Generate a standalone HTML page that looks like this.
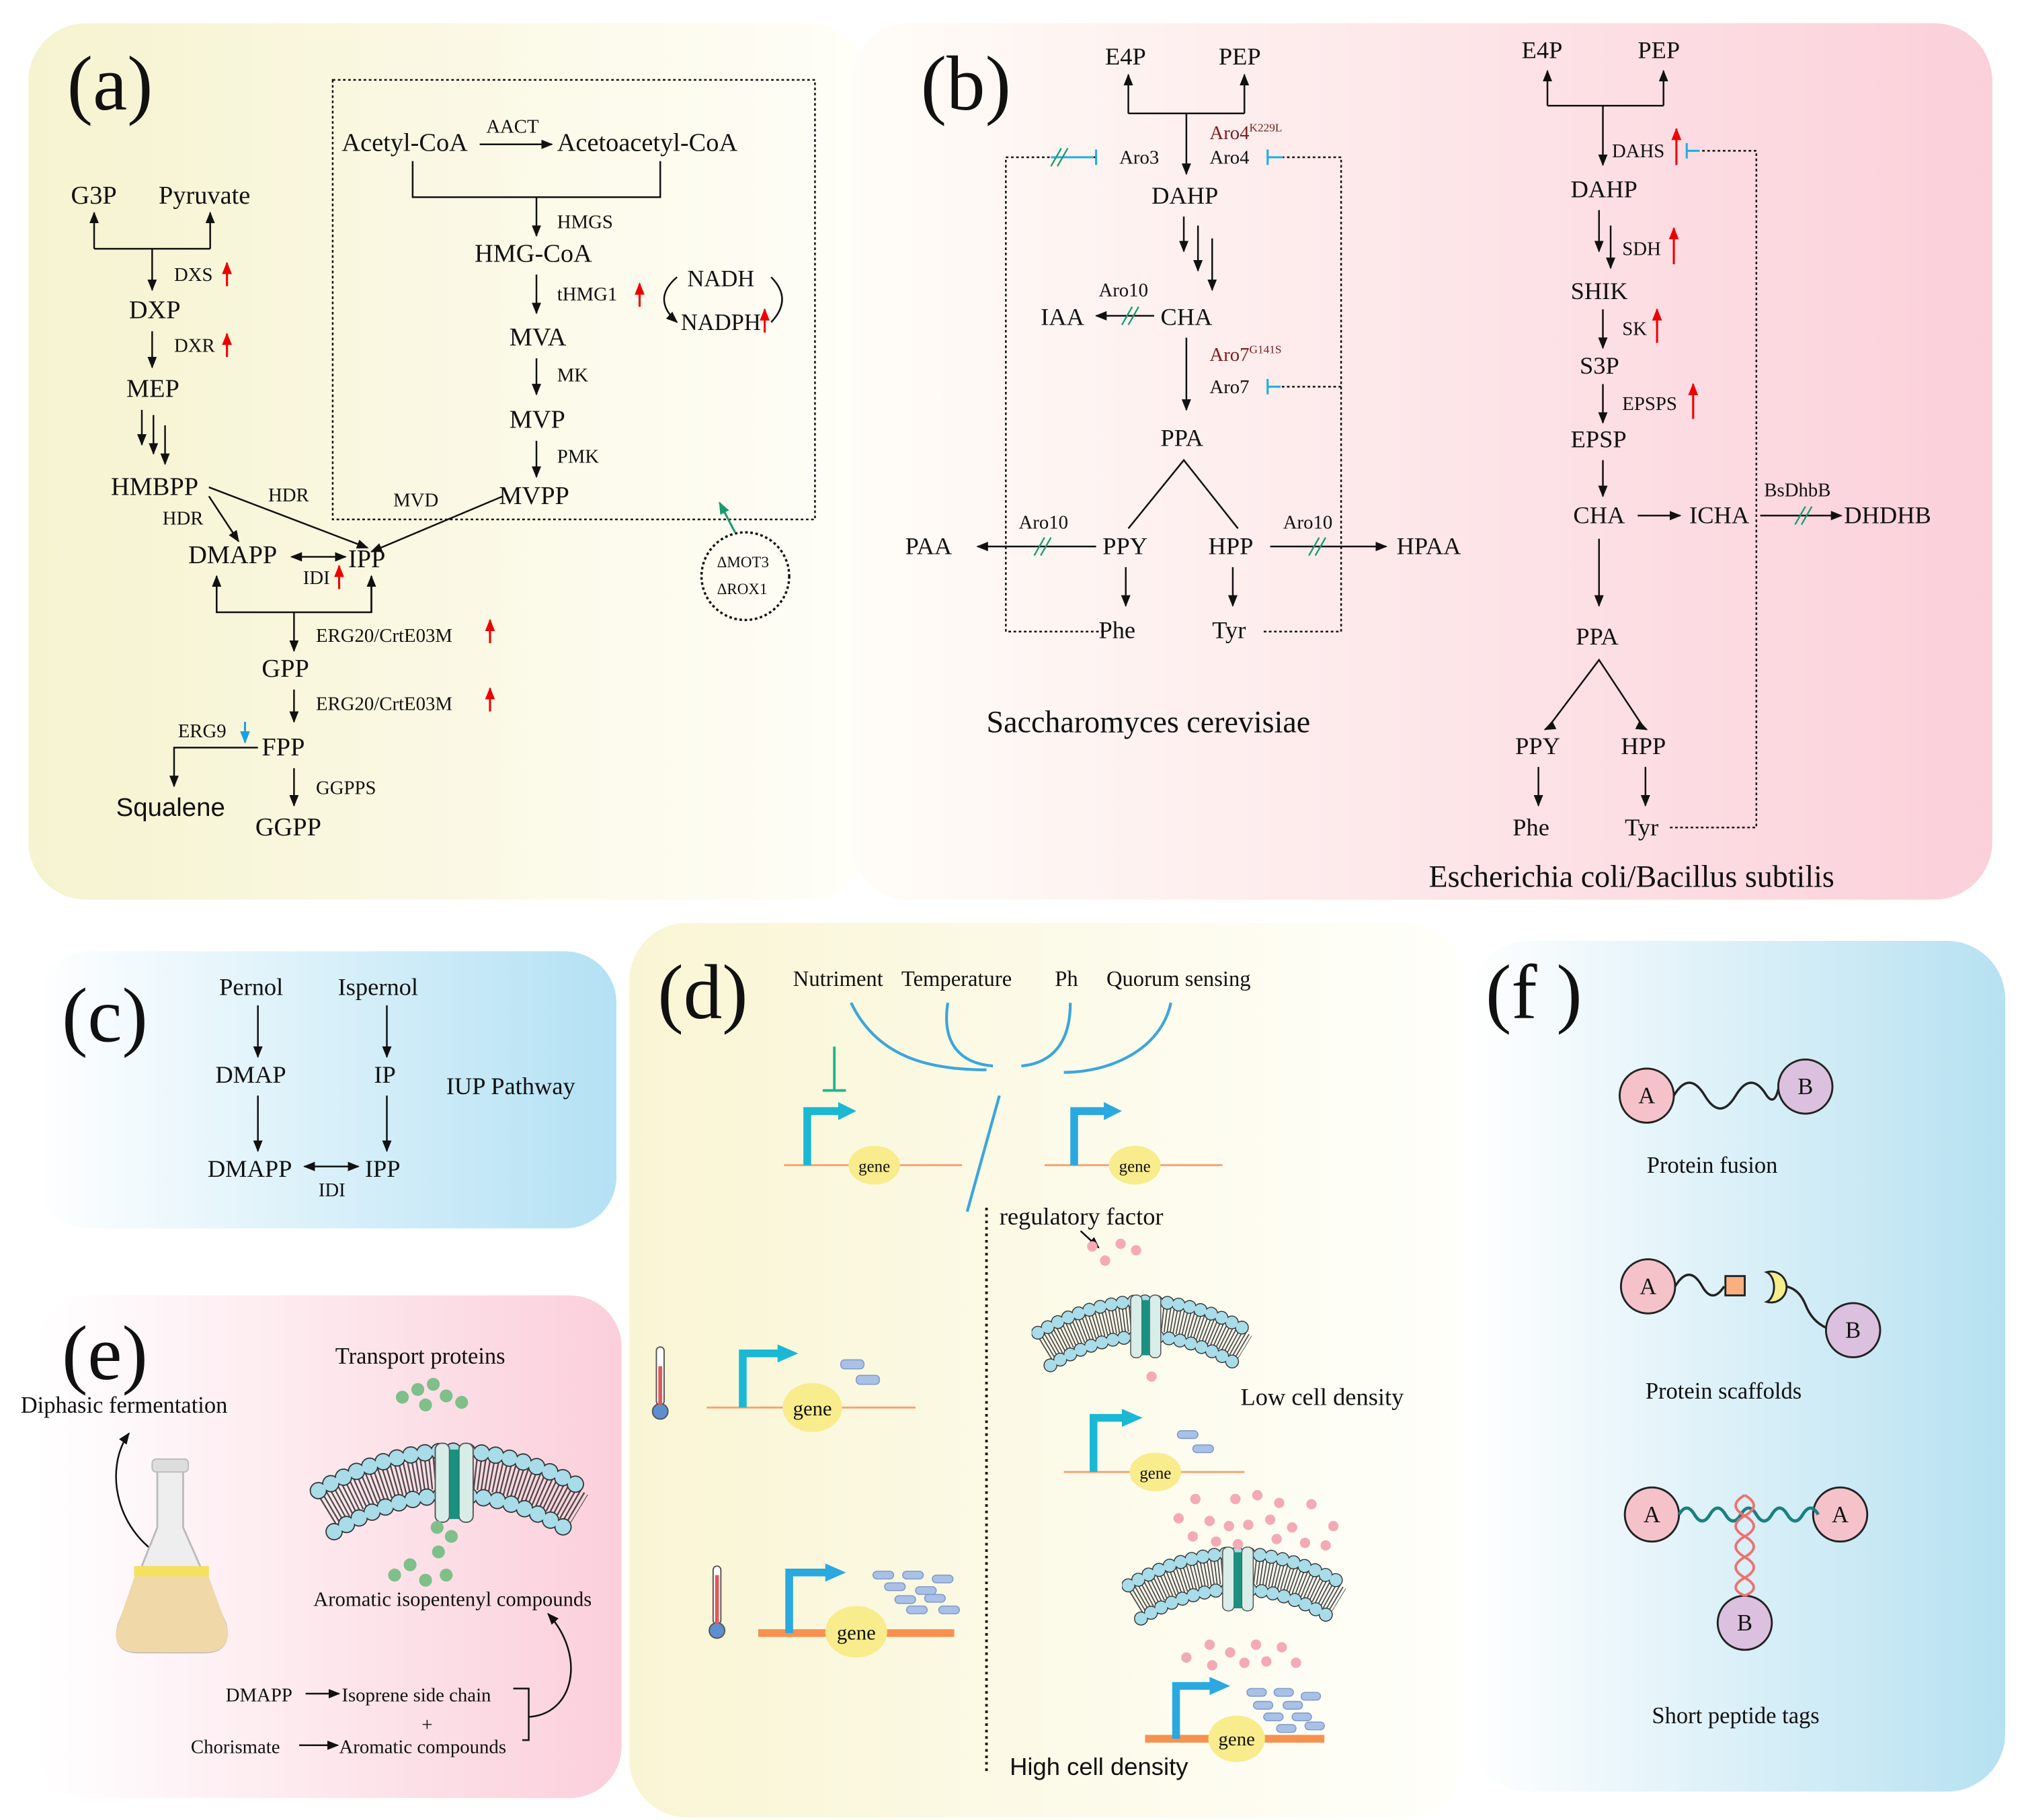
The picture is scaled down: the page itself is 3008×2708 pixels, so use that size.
<!DOCTYPE html>
<html><head><meta charset="utf-8"><style>
html,body{margin:0;padding:0;background:#fff}
svg{display:block}
text{font-family:"Liberation Serif",serif;fill:#111}
.s{font-family:"Liberation Sans",sans-serif}
</style></head><body>
<svg width="3008" height="2708" viewBox="0 0 1568 1412" preserveAspectRatio="none" xmlns="http://www.w3.org/2000/svg">
<defs>
<linearGradient id="ga" x1="0" x2="1"><stop offset="0" stop-color="#f6f3d0"/><stop offset="1" stop-color="#fffef8"/></linearGradient>
<linearGradient id="gb" x1="0" x2="1"><stop offset="0" stop-color="#fffdf8"/><stop offset="1" stop-color="#fbd0da"/></linearGradient>
<linearGradient id="gc" x1="0" x2="1"><stop offset="0" stop-color="#ffffff"/><stop offset="1" stop-color="#b3e1f4"/></linearGradient>
<linearGradient id="gd" x1="0" x2="1"><stop offset="0" stop-color="#f9f5d4"/><stop offset="1" stop-color="#fffffb"/></linearGradient>
<linearGradient id="ge" x1="0" x2="1"><stop offset="0" stop-color="#ffffff"/><stop offset="1" stop-color="#fbcfdb"/></linearGradient>
<linearGradient id="gf" x1="0" x2="1"><stop offset="0" stop-color="#ffffff"/><stop offset="1" stop-color="#b6e1f1"/></linearGradient>
<marker id="ar" viewBox="0 0 10 10" refX="9" refY="5" markerWidth="7" markerHeight="7" orient="auto-start-reverse"><path d="M0,1 L10,5 L0,9 z" fill="#111"/></marker>
<marker id="rr" viewBox="0 0 10 10" refX="9" refY="5" markerWidth="6" markerHeight="6" orient="auto"><path d="M0,1 L10,5 L0,9 z" fill="#e00"/></marker>
<marker id="br" viewBox="0 0 10 10" refX="9" refY="5" markerWidth="6" markerHeight="6" orient="auto"><path d="M0,1 L10,5 L0,9 z" fill="#1aa0e0"/></marker>
<marker id="gr" viewBox="0 0 10 10" refX="9" refY="5" markerWidth="6" markerHeight="6" orient="auto"><path d="M0,1 L10,5 L0,9 z" fill="#1a9a70"/></marker>
<symbol id="mem" viewBox="0 0 180 80">
<path d="M10,54 Q90,5 170,54" fill="none" stroke="#333" stroke-width="22" stroke-dasharray="1 1.6" opacity="0.85"/>
<path d="M5,42 Q90,-8 175,42" fill="none" stroke="#333" stroke-width="11" stroke-dasharray="0 9" stroke-linecap="round"/>
<path d="M5,42 Q90,-8 175,42" fill="none" stroke="#a8dce8" stroke-width="9.5" stroke-dasharray="0 9" stroke-linecap="round"/>
<path d="M15,68 Q90,22 165,68" fill="none" stroke="#333" stroke-width="11" stroke-dasharray="0 9" stroke-linecap="round"/>
<path d="M15,68 Q90,22 165,68" fill="none" stroke="#a8dce8" stroke-width="9.5" stroke-dasharray="0 9" stroke-linecap="round"/>
<rect x="79" y="12" width="9" height="50" rx="4" fill="#d8ece8" stroke="#555" stroke-width="0.8"/>
<rect x="94" y="12" width="9" height="50" rx="4" fill="#d8ece8" stroke="#555" stroke-width="0.8"/>
<rect x="88" y="16" width="6" height="44" fill="#1a9080"/>
</symbol>
</defs>

<rect x="22" y="18" width="650" height="680" rx="45" fill="url(#ga)"/>
<rect x="660" y="18" width="885" height="680" rx="45" fill="url(#gb)"/>
<rect x="28" y="738" width="450" height="215" rx="40" fill="url(#gc)"/>
<rect x="488" y="716" width="647" height="694" rx="45" fill="url(#gd)"/>
<rect x="28" y="1005" width="454" height="390" rx="40" fill="url(#ge)"/>
<rect x="1140" y="730" width="415" height="660" rx="45" fill="url(#gf)"/>

<g stroke="#111" stroke-width="1.3" fill="none">
<rect x="258" y="62" width="374" height="341" stroke-dasharray="2 2"/>
<line x1="372" y1="112" x2="428" y2="112" marker-end="url(#ar)"/>
<polyline points="320,125 320,153 512,153 512,125"/>
<line x1="416" y1="153" x2="416" y2="183" marker-end="url(#ar)"/>
<line x1="416" y1="213" x2="416" y2="243" marker-end="url(#ar)"/>
<line x1="416" y1="278" x2="416" y2="306" marker-end="url(#ar)"/>
<line x1="416" y1="342" x2="416" y2="370" marker-end="url(#ar)"/>
<path d="M525,215 Q505,232 525,250" marker-end="url(#ar)"/>
<path d="M598,215 Q615,232 598,250"/>
<line x1="390" y1="385" x2="288" y2="428" marker-end="url(#ar)"/>
<polyline points="73,193 73,165" marker-end="url(#ar)"/>
<polyline points="163,193 163,165" marker-end="url(#ar)"/>
<line x1="73" y1="193" x2="163" y2="193"/>
<line x1="118" y1="193" x2="118" y2="225" marker-end="url(#ar)"/>
<line x1="118" y1="257" x2="118" y2="285" marker-end="url(#ar)"/>
<line x1="110" y1="318" x2="110" y2="345" marker-end="url(#ar)"/>
<line x1="119" y1="322" x2="119" y2="352" marker-end="url(#ar)"/>
<line x1="128" y1="330" x2="128" y2="360" marker-end="url(#ar)"/>
<line x1="162" y1="378" x2="285" y2="425" marker-end="url(#ar)"/>
<line x1="162" y1="385" x2="185" y2="420" marker-end="url(#ar)"/>
<line x1="226" y1="432" x2="268" y2="432" marker-start="url(#ar)" marker-end="url(#ar)"/>
<polyline points="168,447 168,475 288,475 288,447"/>
<line x1="168" y1="475" x2="168" y2="447" marker-end="url(#ar)"/>
<line x1="288" y1="475" x2="288" y2="447" marker-end="url(#ar)"/>
<line x1="228" y1="475" x2="228" y2="505" marker-end="url(#ar)"/>
<line x1="228" y1="535" x2="228" y2="560" marker-end="url(#ar)"/>
<polyline points="200,580 135,580 135,610" marker-end="url(#ar)"/>
<line x1="228" y1="596" x2="228" y2="625" marker-end="url(#ar)"/>
<circle cx="578" cy="447" r="34" stroke-dasharray="2 2" stroke-width="1.8"/>
<polyline points="875,88 875,58" marker-end="url(#ar)"/>
<polyline points="965,88 965,58" marker-end="url(#ar)"/>
<line x1="875" y1="88" x2="965" y2="88"/>
<line x1="920" y1="88" x2="920" y2="135" marker-end="url(#ar)"/>
<polyline points="850,122 780,122 780,490 855,490" stroke-dasharray="2 2"/>
<polyline points="990,122 1040,122 1040,490 978,490" stroke-dasharray="2 2"/>
<line x1="990" y1="300" x2="1040" y2="300" stroke-dasharray="2 2"/>
<line x1="918" y1="168" x2="918" y2="195" marker-end="url(#ar)"/>
<line x1="929" y1="175" x2="929" y2="210" marker-end="url(#ar)"/>
<line x1="940" y1="185" x2="940" y2="225" marker-end="url(#ar)"/>
<line x1="895" y1="245" x2="850" y2="245" marker-end="url(#ar)"/>
<line x1="920" y1="262" x2="920" y2="318" marker-end="url(#ar)"/>
<polyline points="875,410 918,357 960,410"/>
<line x1="850" y1="424" x2="758" y2="424" marker-end="url(#ar)"/>
<line x1="985" y1="424" x2="1075" y2="424" marker-end="url(#ar)"/>
<line x1="873" y1="440" x2="873" y2="470" marker-end="url(#ar)"/>
<line x1="956" y1="440" x2="956" y2="470" marker-end="url(#ar)"/>
<polyline points="1200,82 1200,55" marker-end="url(#ar)"/>
<polyline points="1290,82 1290,55" marker-end="url(#ar)"/>
<line x1="1200" y1="82" x2="1290" y2="82"/>
<line x1="1243" y1="82" x2="1243" y2="128" marker-end="url(#ar)"/>
<polyline points="1312,117 1362,117 1362,642 1295,642" stroke-dasharray="2 2"/>
<line x1="1240" y1="163" x2="1240" y2="195" marker-end="url(#ar)"/>
<line x1="1249" y1="175" x2="1249" y2="208" marker-end="url(#ar)"/>
<line x1="1243" y1="240" x2="1243" y2="270" marker-end="url(#ar)"/>
<line x1="1243" y1="298" x2="1243" y2="328" marker-end="url(#ar)"/>
<line x1="1243" y1="357" x2="1243" y2="385" marker-end="url(#ar)"/>
<line x1="1270" y1="400" x2="1303" y2="400" marker-end="url(#ar)"/>
<line x1="1365" y1="400" x2="1428" y2="400" marker-end="url(#ar)"/>
<line x1="1240" y1="418" x2="1240" y2="470" marker-end="url(#ar)"/>
<polyline points="1200,565 1240,512 1275,565"/>
<line x1="1200" y1="565" x2="1198" y2="566" marker-end="url(#ar)"/>
<line x1="1275" y1="565" x2="1277" y2="566" marker-end="url(#ar)"/>
<line x1="1193" y1="595" x2="1193" y2="625" marker-end="url(#ar)"/>
<line x1="1276" y1="595" x2="1276" y2="625" marker-end="url(#ar)"/>
<line x1="200" y1="780" x2="200" y2="820" marker-end="url(#ar)"/>
<line x1="300" y1="780" x2="300" y2="820" marker-end="url(#ar)"/>
<line x1="200" y1="850" x2="200" y2="893" marker-end="url(#ar)"/>
<line x1="300" y1="850" x2="300" y2="893" marker-end="url(#ar)"/>
<line x1="236" y1="905" x2="278" y2="905" marker-start="url(#ar)" marker-end="url(#ar)"/>
<line x1="237" y1="1314" x2="263" y2="1314" marker-end="url(#ar)"/>
<line x1="232" y1="1354" x2="262" y2="1354" marker-end="url(#ar)"/>
<polyline points="398,1310 410,1310 410,1350 405,1350"/>
<path d="M410,1332 C445,1330 455,1285 425,1252" marker-end="url(#ar)"/>
<path d="M130,1210 C90,1190 80,1140 100,1112" marker-end="url(#ar)"/>
<line x1="838" y1="955" x2="852" y2="968" marker-end="url(#ar)"/>
</g>

<g stroke="#e00" stroke-width="1.6" fill="none">
<line x1="176" y1="222" x2="176" y2="204" marker-end="url(#rr)"/>
<line x1="176" y1="277" x2="176" y2="259" marker-end="url(#rr)"/>
<line x1="496" y1="238" x2="496" y2="220" marker-end="url(#rr)"/>
<line x1="593" y1="258" x2="593" y2="240" marker-end="url(#rr)"/>
<line x1="263" y1="457" x2="263" y2="439" marker-end="url(#rr)"/>
<line x1="380" y1="499" x2="380" y2="481" marker-end="url(#rr)"/>
<line x1="380" y1="552" x2="380" y2="534" marker-end="url(#rr)"/>
<line x1="1300" y1="128" x2="1300" y2="100" marker-end="url(#rr)"/>
<line x1="1298" y1="205" x2="1298" y2="177" marker-end="url(#rr)"/>
<line x1="1285" y1="266" x2="1285" y2="240" marker-end="url(#rr)"/>
<line x1="1313" y1="325" x2="1313" y2="298" marker-end="url(#rr)"/>
</g>
<line x1="190" y1="560" x2="190" y2="576" stroke="#1aa0e0" stroke-width="1.6" marker-end="url(#br)"/>
<line x1="570" y1="413" x2="558" y2="390" stroke="#1a9a70" stroke-width="1.6" marker-end="url(#gr)"/>
<g stroke="#1ab0e0" stroke-width="1.6">
<line x1="815" y1="122" x2="848" y2="122"/><line x1="850" y1="116" x2="850" y2="128"/>
<line x1="983" y1="116" x2="983" y2="128"/><line x1="983" y1="122" x2="995" y2="122"/>
<line x1="983" y1="294" x2="983" y2="306"/><line x1="983" y1="300" x2="993" y2="300"/>
<line x1="1308" y1="111" x2="1308" y2="123"/><line x1="1308" y1="117" x2="1318" y2="117"/>
</g>
<g stroke="#1a9a70" stroke-width="1.2">
<line x1="815" y1="129" x2="823" y2="115"/><line x1="820" y1="129" x2="828" y2="115"/>
<line x1="870" y1="252" x2="878" y2="238"/><line x1="875" y1="252" x2="883" y2="238"/>
<line x1="802" y1="431" x2="810" y2="417"/><line x1="807" y1="431" x2="815" y2="417"/>
<line x1="1015" y1="431" x2="1023" y2="417"/><line x1="1020" y1="431" x2="1028" y2="417"/>
<line x1="1392" y1="407" x2="1400" y2="393"/><line x1="1397" y1="407" x2="1405" y2="393"/>
</g>

<text x="52" y="85" font-size="60">(a)</text>
<g font-size="20">
<text x="265" y="117">Acetyl-CoA</text><text x="432" y="117">Acetoacetyl-CoA</text>
<text x="368" y="203">HMG-CoA</text><text x="395" y="268">MVA</text><text x="395" y="332">MVP</text><text x="387" y="391">MVPP</text>
<text x="533" y="222" font-size="18">NADH</text><text x="528" y="256" font-size="18">NADPH</text>
<text x="55" y="158">G3P</text><text x="123" y="158">Pyruvate</text>
<text x="100" y="247">DXP</text><text x="98" y="308">MEP</text><text x="86" y="384">HMBPP</text>
<text x="146" y="437">DMAPP</text><text x="270" y="440">IPP</text>
<text x="203" y="525">GPP</text><text x="203" y="586">FPP</text><text x="198" y="648">GGPP</text>
</g>
<text x="90" y="633" font-size="20" class="s">Squalene</text>
<g font-size="15">
<text x="377" y="103">AACT</text><text x="432" y="177">HMGS</text><text x="432" y="233">tHMG1</text>
<text x="432" y="296">MK</text><text x="432" y="359">PMK</text><text x="305" y="393">MVD</text>
<text x="135" y="218">DXS</text><text x="135" y="273">DXR</text><text x="208" y="389">HDR</text><text x="126" y="407">HDR</text>
<text x="235" y="453">IDI</text><text x="245" y="498">ERG20/CrtE03M</text><text x="245" y="551">ERG20/CrtE03M</text>
<text x="138" y="572">ERG9</text><text x="245" y="616">GGPPS</text>
<text x="556" y="440" font-size="12">ΔMOT3</text><text x="556" y="461" font-size="12">ΔROX1</text>
</g>

<text x="714" y="85" font-size="60">(b)</text>
<g font-size="19">
<text x="857" y="50">E4P</text><text x="945" y="50">PEP</text>
<text x="893" y="158">DAHP</text><text x="807" y="252">IAA</text><text x="900" y="252">CHA</text>
<text x="900" y="346">PPA</text><text x="855" y="430">PPY</text><text x="937" y="430">HPP</text>
<text x="702" y="430">PAA</text><text x="1083" y="430">HPAA</text>
<text x="852" y="495">Phe</text><text x="940" y="495">Tyr</text>
<text x="1180" y="45">E4P</text><text x="1270" y="45">PEP</text>
<text x="1218" y="153">DAHP</text><text x="1218" y="232">SHIK</text><text x="1225" y="290">S3P</text>
<text x="1218" y="347">EPSP</text><text x="1220" y="406">CHA</text><text x="1310" y="406">ICHA</text><text x="1430" y="406">DHDHB</text>
<text x="1222" y="500">PPA</text><text x="1175" y="585">PPY</text><text x="1257" y="585">HPP</text>
<text x="1173" y="648">Phe</text><text x="1260" y="648">Tyr</text>
</g>
<g font-size="15">
<text x="938" y="108" style="fill:#7a1c1c">Aro4<tspan font-size="9" dy="-6">K229L</tspan></text>
<text x="938" y="127">Aro4</text><text x="868" y="127">Aro3</text>
<text x="852" y="230">Aro10</text>
<text x="938" y="280" style="fill:#7a1c1c">Aro7<tspan font-size="9" dy="-6">G141S</tspan></text>
<text x="938" y="305">Aro7</text>
<text x="790" y="410">Aro10</text><text x="995" y="410">Aro10</text>
<text x="1250" y="122">DAHS</text><text x="1258" y="198">SDH</text><text x="1258" y="260">SK</text><text x="1258" y="318">EPSPS</text>
<text x="1368" y="385">BsDhbB</text>
</g>
<text x="765" y="568" font-size="24">Saccharomyces cerevisiae</text>
<text x="1108" y="688" font-size="24">Escherichia coli/Bacillus subtilis</text>

<text x="48" y="808" font-size="60">(c)</text>
<g font-size="19">
<text x="170" y="772">Pernol</text><text x="262" y="772">Ispernol</text>
<text x="167" y="840">DMAP</text><text x="290" y="840">IP</text>
<text x="161" y="913">DMAPP</text><text x="283" y="913">IPP</text>
<text x="346" y="849">IUP Pathway</text>
</g>
<text x="247" y="928" font-size="15">IDI</text>

<text x="510" y="790" font-size="60">(d)</text>
<g font-size="17">
<text x="615" y="765">Nutriment</text><text x="699" y="765">Temperature</text><text x="818" y="765">Ph</text><text x="858" y="765">Quorum sensing</text>
</g>
<g stroke="#3aa6de" stroke-width="2.2" fill="none">
<path d="M660,778 C680,820 720,830 765,830"/>
<path d="M735,778 C730,810 745,825 770,827"/>
<path d="M830,778 C830,810 815,825 792,827"/>
<path d="M908,778 C900,815 860,832 825,832"/>
<line x1="775" y1="850" x2="750" y2="940"/>
</g>
<g stroke="#1fb58a" stroke-width="2"><line x1="647" y1="812" x2="647" y2="846"/><line x1="638" y1="846" x2="656" y2="846"/></g>
<g stroke="#f7a070" stroke-width="1.5"><line x1="608" y1="904" x2="746" y2="904"/><line x1="810" y1="904" x2="948" y2="904"/><line x1="548" y1="1092" x2="710" y2="1092"/><line x1="825" y1="1142" x2="965" y2="1142"/></g>
<g stroke="#f7914f" stroke-width="6"><line x1="588" y1="1267" x2="740" y2="1267"/><line x1="888" y1="1349" x2="1027" y2="1349"/></g>
<g fill="none" stroke-width="6">
<polyline points="626,904 626,862 652,862" stroke="#1ab8d4"/><path d="M650,855 L664,862 L650,869z" fill="#1ab8d4" stroke="none"/>
<polyline points="833,904 833,862 858,862" stroke="#2aa8e0"/><path d="M856,855 L870,862 L856,869z" fill="#2aa8e0" stroke="none"/>
<polyline points="576,1092 576,1050 605,1050" stroke="#1ab8d4"/><path d="M603,1043 L619,1050 L603,1057z" fill="#1ab8d4" stroke="none"/>
<polyline points="848,1142 848,1100 872,1100" stroke="#1ab8d4"/><path d="M870,1093 L886,1100 L870,1107z" fill="#1ab8d4" stroke="none"/>
<polyline points="612,1267 612,1220 642,1220" stroke="#2aa8e0"/><path d="M640,1213 L656,1220 L640,1227z" fill="#2aa8e0" stroke="none"/>
<polyline points="912,1349 912,1308 940,1308" stroke="#2aa8e0"/><path d="M938,1301 L954,1308 L938,1315z" fill="#2aa8e0" stroke="none"/>
</g>
<g fill="#f8ec8c">
<ellipse cx="678" cy="904" rx="20" ry="15"/><ellipse cx="880" cy="904" rx="20" ry="15"/>
<ellipse cx="630" cy="1092" rx="23" ry="19"/><ellipse cx="896" cy="1142" rx="20" ry="15"/>
<ellipse cx="664" cy="1266" rx="24" ry="20"/><ellipse cx="959" cy="1349" rx="22" ry="18"/>
</g>
<g font-size="13" text-anchor="middle">
<text x="678" y="909">gene</text><text x="880" y="909">gene</text><text x="630" y="1098" font-size="16">gene</text>
<text x="896" y="1147">gene</text><text x="664" y="1272" font-size="16">gene</text><text x="959" y="1354" font-size="15">gene</text>
</g>
<g fill="#a9c1e6" stroke="#7f9cc8" stroke-width="0.8">
<rect x="652" y="1055" width="18" height="7" rx="3"/><rect x="664" y="1067" width="18" height="7" rx="3"/>
<rect x="913" y="1110" width="16" height="6" rx="3"/><rect x="925" y="1121" width="16" height="6" rx="3"/>
<rect x="677" y="1219" width="16" height="6" rx="3"/><rect x="700" y="1219" width="16" height="6" rx="3"/><rect x="723" y="1222" width="16" height="6" rx="3"/>
<rect x="686" y="1228" width="16" height="6" rx="3"/><rect x="710" y="1231" width="16" height="6" rx="3"/>
<rect x="694" y="1238" width="16" height="6" rx="3"/><rect x="717" y="1237" width="16" height="6" rx="3"/>
<rect x="703" y="1246" width="16" height="6" rx="3"/><rect x="728" y="1246" width="16" height="6" rx="3"/>
<rect x="967" y="1310" width="15" height="6" rx="3"/><rect x="988" y="1310" width="15" height="6" rx="3"/><rect x="1009" y="1313" width="15" height="6" rx="3"/>
<rect x="972" y="1320" width="15" height="6" rx="3"/><rect x="995" y="1320" width="15" height="6" rx="3"/>
<rect x="980" y="1329" width="15" height="6" rx="3"/><rect x="1002" y="1329" width="15" height="6" rx="3"/>
<rect x="990" y="1338" width="15" height="6" rx="3"/><rect x="1012" y="1336" width="15" height="6" rx="3"/>
</g>
<line x1="765" y1="937" x2="765" y2="1375" stroke="#111" stroke-width="2" stroke-dasharray="2 3"/>
<text x="775" y="950" font-size="19">regulatory factor</text>
<text x="962" y="1090" font-size="19">Low cell density</text>
<text x="783" y="1377" font-size="19" class="s">High cell density</text>
<use href="#mem" x="800" y="993" width="175" height="78"/>
<use href="#mem" x="870" y="1188" width="178" height="80"/>
<g fill="#f4aab4">
<circle cx="847" cy="967" r="4"/><circle cx="857" cy="978" r="4"/><circle cx="869" cy="965" r="4"/><circle cx="881" cy="970" r="4"/><circle cx="893" cy="1068" r="4"/>
<circle cx="927" cy="1163" r="4"/><circle cx="958" cy="1163" r="4"/><circle cx="975" cy="1160" r="4"/><circle cx="992" cy="1166" r="4"/><circle cx="1017" cy="1167" r="4"/>
<circle cx="914" cy="1178" r="4"/><circle cx="938" cy="1180" r="4"/><circle cx="953" cy="1184" r="4"/><circle cx="968" cy="1183" r="4"/><circle cx="985" cy="1179" r="4"/><circle cx="1002" cy="1185" r="4"/><circle cx="1034" cy="1184" r="4"/>
<circle cx="925" cy="1192" r="4"/><circle cx="943" cy="1196" r="4"/><circle cx="960" cy="1198" r="4"/><circle cx="990" cy="1194" r="4"/><circle cx="1012" cy="1197" r="4"/><circle cx="1028" cy="1199" r="4"/>
<circle cx="938" cy="1276" r="4"/><circle cx="954" cy="1282" r="4"/><circle cx="974" cy="1276" r="4"/><circle cx="994" cy="1278" r="4"/>
<circle cx="920" cy="1286" r="4"/><circle cx="940" cy="1292" r="4"/><circle cx="965" cy="1290" r="4"/><circle cx="982" cy="1289" r="4"/><circle cx="1005" cy="1290" r="4"/>
</g>
<g stroke="#555" stroke-width="1" fill="#fff"><rect x="509" y="1045" width="6" height="45" rx="3"/><circle cx="512" cy="1095" r="6" fill="#5d8fd0"/>
<rect x="553" y="1215" width="6" height="45" rx="3"/><circle cx="556" cy="1265" r="6" fill="#5d8fd0"/></g>
<rect x="510.5" y="1060" width="3" height="30" fill="#e05858"/><rect x="554.5" y="1222" width="3" height="38" fill="#e05858"/>

<text x="48" y="1070" font-size="60">(e)</text>
<text x="16" y="1096" font-size="18">Diphasic fermentation</text>
<text x="260" y="1058" font-size="18">Transport proteins</text>
<use href="#mem" x="240" y="1105" width="222" height="98"/>
<g fill="#7fbf8a">
<circle cx="312" cy="1084" r="5"/><circle cx="324" cy="1078" r="5"/><circle cx="336" cy="1074" r="5"/><circle cx="346" cy="1083" r="5"/><circle cx="358" cy="1088" r="5"/><circle cx="330" cy="1090" r="5"/>
<circle cx="339" cy="1185" r="5"/><circle cx="350" cy="1192" r="5"/><circle cx="340" cy="1204" r="5"/><circle cx="318" cy="1214" r="5"/><circle cx="306" cy="1222" r="5"/><circle cx="346" cy="1222" r="5"/><circle cx="330" cy="1226" r="5"/>
</g>
<text x="243" y="1246" font-size="16">Aromatic isopentenyl compounds</text>
<g font-size="15"><text x="175" y="1320">DMAPP</text><text x="265" y="1320">Isoprene side chain</text><text x="327" y="1343">+</text>
<text x="148" y="1360">Chorismate</text><text x="263" y="1360">Aromatic compounds</text></g>
<path d="M122,1140 L142,1140 L142,1185 L175,1260 Q180,1282 158,1282 L108,1282 Q86,1282 92,1260 L122,1185z" fill="#eeeeee" stroke="#bbb" stroke-width="1.5"/>
<path d="M106,1218 L160,1218 L176,1262 Q180,1282 158,1282 L108,1282 Q86,1282 91,1262z" fill="#f0d8a8"/>
<rect x="104" y="1215" width="58" height="8" fill="#f5e060"/>
<rect x="118" y="1132" width="28" height="10" rx="3" fill="#ddd" stroke="#bbb"/>

<text x="1152" y="790" font-size="60">(f )</text>
<g stroke="#222" stroke-width="1.5">
<circle cx="1277" cy="850" r="21" fill="#f6c2ca"/><circle cx="1400" cy="843" r="21" fill="#dcc0df"/>
<circle cx="1278" cy="998" r="21" fill="#f6c2ca"/><circle cx="1437" cy="1032" r="21" fill="#dcc0df"/>
<circle cx="1281" cy="1175" r="21" fill="#f6c2ca"/><circle cx="1427" cy="1175" r="21" fill="#f6c2ca"/><circle cx="1353" cy="1259" r="21" fill="#dcc0df"/>
<rect x="1338" y="990" width="15" height="15" fill="#f8b080"/>
<path d="M1370,987 A12,12 0 1,1 1370,1010 A8,12 0 0,0 1370,987z" fill="#f8ec8c"/>
</g>
<g fill="none" stroke="#222" stroke-width="1.8">
<path d="M1298,850 Q1310,830 1322,850 Q1334,870 1346,850 Q1358,830 1370,850 Q1376,858 1379,845"/>
<path d="M1299,998 Q1310,980 1320,998 Q1328,1012 1337,998"/>
<path d="M1385,998 Q1395,1000 1400,1012 Q1405,1025 1416,1030"/>
</g>
<path d="M1302,1175 q6,-10 12,0 t12,0 t12,0 t12,0 t12,0 t12,0 t12,0 t12,0 t12,0" fill="none" stroke="#1a8080" stroke-width="2.5"/>
<path d="M1353,1160 q-14,8 0,16 t0,16 t0,16 t0,16 t0,14" fill="none" stroke="#f07070" stroke-width="2"/>
<path d="M1353,1160 q14,8 0,16 t0,16 t0,16 t0,16 t0,14" fill="none" stroke="#f07070" stroke-width="2"/>
<g font-size="18" text-anchor="middle">
<text x="1277" y="856">A</text><text x="1400" y="849">B</text><text x="1278" y="1004">A</text><text x="1437" y="1038">B</text>
<text x="1281" y="1181">A</text><text x="1427" y="1181">A</text><text x="1353" y="1265">B</text>
</g>
<g font-size="18"><text x="1277" y="910">Protein fusion</text><text x="1276" y="1085">Protein scaffolds</text><text x="1281" y="1337">Short peptide tags</text></g>
</svg>
</body></html>
